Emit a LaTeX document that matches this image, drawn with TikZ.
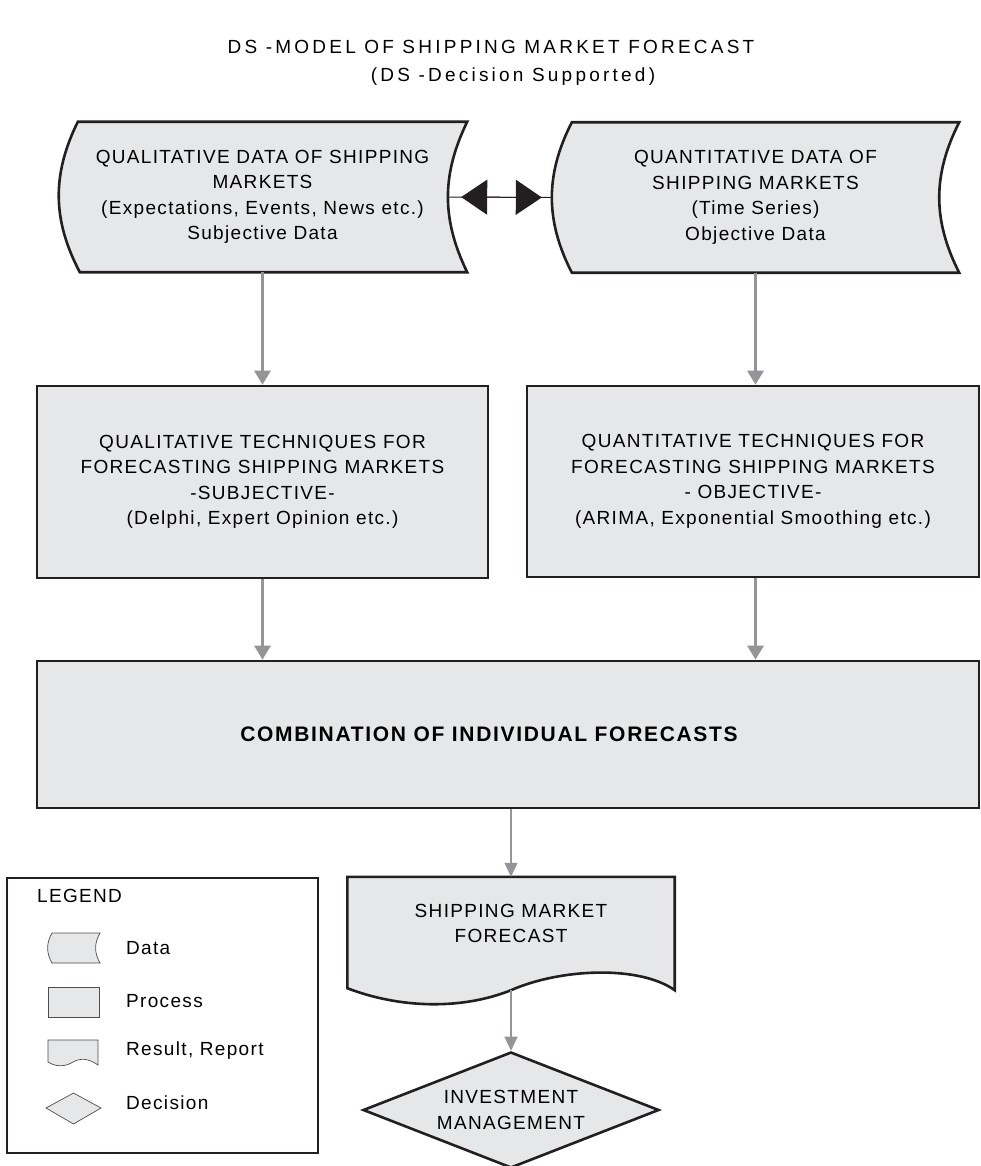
\documentclass[tikz,border=0pt]{standalone}
\usepackage{fontspec}
\setmainfont{Liberation Sans}[LetterSpace=7]
\newfontfamily\titlefont{Liberation Sans}[LetterSpace=17]
\newfontfamily\combfont{Liberation Sans}[LetterSpace=8]
\usetikzlibrary{arrows.meta,positioning,shapes.geometric,backgrounds}
\definecolor{boxfill}{RGB}{230,231,232}
\definecolor{boxline}{RGB}{35,31,32}
\definecolor{arrgray}{RGB}{147,149,152}
\tikzset{
  txt/.style={font=\fontsize{19}{25.5}\selectfont, align=center, inner sep=0pt},
  procbox/.style={txt, draw=boxline, fill=boxfill, line width=2.6pt},
  decbox/.style={procbox, diamond, aspect=2.55},
  shapeline/.style={draw=boxline, fill=boxfill, line width=2.6pt},
  garr/.style={-{Triangle[length=14pt,width=16pt]}, arrgray, line width=3pt},
  tarr/.style={-{Triangle[length=14pt,width=13pt]}, arrgray, line width=1.2pt},
  dblarr/.style={{Triangle[length=26pt,width=35pt]}-{Triangle[length=26pt,width=35pt]},
                 boxline, line width=1pt, shorten <=13pt, shorten >=10pt},
  legsym/.style={draw=boxline!80, fill=boxfill, line width=0.7pt},
  legtxt/.style={txt, anchor=west},
}
\begin{document}
\begin{tikzpicture}[x=1pt, y=-1pt]
    \useasboundingbox (0,0) rectangle (980,1166);
    \node[txt, font=\titlefont\fontsize{19}{25.5}\selectfont] (title) at (491,47) {DS -MODEL OF SHIPPING MARKET FORECAST};
    \node[txt, font=\titlefont\fontsize{19}{25.5}\selectfont] (subtitle) at (513,77) {(DS -Decision Supported)};
    % data
    \node[txt, minimum width=409pt, minimum height=150pt] (qldata) at (262.5,197)
      {QUALITATIVE DATA OF SHIPPING\\MARKETS\\(Expectations, Events, News etc.)\\Subjective Data};
    \node[txt, minimum width=407pt, minimum height=150pt] (qndata) at (755.5,197.5)
      {QUANTITATIVE DATA OF\\SHIPPING MARKETS\\(Time Series)\\Objective Data};
    \begin{scope}[on background layer]
      \draw[shapeline] ([xshift=20pt]qldata.north west) to[bend right=27] ([xshift=22pt]qldata.south west)
        -- (qldata.south east) to[bend left=26] (qldata.north east) -- cycle;
      \draw[shapeline] ([xshift=20pt]qndata.north west) to[bend right=27] ([xshift=20pt]qndata.south west)
        -- (qndata.south east) to[bend left=27] (qndata.north east) -- cycle;
    \end{scope}
    \draw[boxline, line width=1pt] ([xshift=-19pt]qldata.east) -- (qndata.west);
    \draw[dblarr] ([xshift=-19pt]qldata.east) -- (qndata.west);
    % techniques
    \node[procbox, minimum width=451pt, minimum height=192pt] (qlproc) at (262.5,482)
      {QUALITATIVE TECHNIQUES FOR\\FORECASTING SHIPPING MARKETS\\-SUBJECTIVE-\\(Delphi, Expert Opinion etc.)};
    \node[procbox, minimum width=452pt, minimum height=191pt] (qnproc) at (753,481.5)
      {QUANTITATIVE TECHNIQUES FOR\\FORECASTING SHIPPING MARKETS\\- OBJECTIVE-\\(ARIMA, Exponential Smoothing etc.)};
    \node[procbox, minimum width=942pt, minimum height=147pt, font=\combfont\bfseries\fontsize{21}{25.5}\selectfont]
      (comb) at (508,734.5) {COMBINATION OF INDIVIDUAL FORECASTS\hspace*{38pt}};
    % result and decision
    \node[txt, minimum width=327pt, minimum height=93pt] (result) at (511,923.5) {SHIPPING MARKET\\FORECAST};
    \begin{scope}[on background layer]
      \draw[shapeline] (result.north west) -- (result.north east) -- ([yshift=-20pt]result.south east)
        .. controls +(-35,-25) and +(50,-22) .. ([yshift=-20pt]result.south)
        .. controls +(-50,20) and +(52,20) .. ([yshift=-18pt]result.south west) -- cycle;
    \end{scope}
    \node[decbox, minimum width=296pt, minimum height=116pt] (invest) at (511,1110) {INVESTMENT\\MANAGEMENT};
    \draw[garr] (qldata.south) -- (qlproc.north);
    \draw[garr] (qndata.south) -- (qndata.south |- qnproc.north);
    \draw[garr] (qlproc.south) -- (qlproc.south |- comb.north);
    \draw[garr] (qndata.south |- qnproc.south) -- (qndata.south |- comb.north);
    \draw[tarr] (result.north |- comb.south) -- (result.north);
    \draw[tarr] ([yshift=-20pt]result.south) -- (invest.north);
    % legend
    \node[draw=boxline, line width=2pt, minimum width=311pt, minimum height=275pt, inner sep=0pt] (legend) at (162.5,1015.5) {};
    \node[legtxt] (legtitle) at (37,896) {LEGEND};
    \draw[legsym] (52,933) to[bend right=30] (52,963) -- (100,963) to[bend left=30] (100,933) -- cycle;
    \draw[legsym] (48,987) rectangle (99,1017);
    \draw[legsym] (48,1040) -- (98,1040) -- (98,1065) .. controls (88,1058) and (80,1058) .. (73,1062)
      .. controls (65,1067) and (56,1067) .. (48,1062) -- cycle;
    \draw[legsym] (46,1108) -- (73.5,1093) -- (101,1108) -- (73.5,1124) -- cycle;
    \node[legtxt] (ldata) at (126,948) {Data};
    \node[legtxt] (lproc) at (126,1001) {Process};
    \node[legtxt] (lres) at (126,1051) {Result, Report};
    \node[legtxt] (ldec) at (126,1103) {Decision};
\end{tikzpicture}
\end{document}
